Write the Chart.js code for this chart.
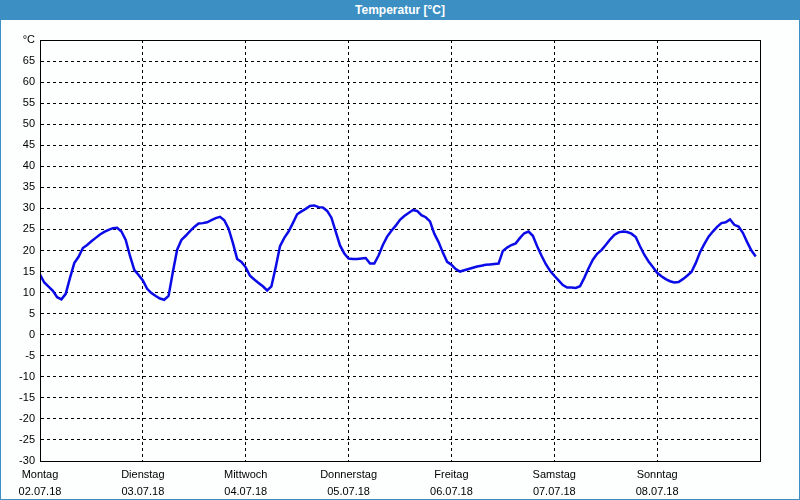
<!DOCTYPE html>
<html lang="de">
<head>
  <meta charset="UTF-8">
  <title>Temperatur</title>
  <script src="https://cdn.jsdelivr.net/npm/chart.js"></script>
  <style>
    body { margin: 0; background: #fff; }
    #wrap { position: relative; width: 800px; height: 500px; background: #fdfefe; overflow: hidden; }
    #bar {
      position: absolute; left: 0; top: 0; width: 800px; height: 20px;
      background: #3b8fc3; color: #fff; text-align: center;
      font: bold 12px "Liberation Sans", Arial, sans-serif; line-height: 20px;
    }
    #frame {
      position: absolute; left: 0; top: 20px; width: 798px; height: 479px;
      border: 1px solid #3b8fc3; border-top: none;
    }
    #c { position: absolute; left: 0; top: 0; }
  </style>
</head>
<body>
<div id="wrap">
  <canvas id="c" width="800" height="500"></canvas>
  <div id="frame"></div>
  <div id="bar">Temperatur [°C]</div>
</div>

<script>
  // Wochentage und Datum (ein Tick pro Tag, 24 h Abstand)
  const dayNames = ["Montag", "Dienstag", "Mittwoch", "Donnerstag", "Freitag", "Samstag", "Sonntag"];
  const dayDates = ["02.07.18", "03.07.18", "04.07.18", "05.07.18", "06.07.18", "07.07.18", "08.07.18"];
  // Stundenwerte in °C, ab Montag 00:00
  const temps = [
    14.3, 12.4, 11.4, 10.4, 8.9, 8.4, 9.7, 13.5, 17.0, 18.5, 20.6, 21.3,
    22.2, 23.0, 23.8, 24.4, 24.9, 25.3, 25.4, 24.5, 22.5, 18.7, 15.4, 14.2,
    12.9, 10.9, 9.9, 9.2, 8.6, 8.3, 9.2, 14.9, 20.2, 22.5, 23.5, 24.6,
    25.6, 26.4, 26.5, 26.7, 27.2, 27.7, 28.0, 27.2, 25.2, 21.8, 18.0, 17.3,
    16.0, 14.0, 13.1, 12.3, 11.5, 10.5, 11.5, 16.0, 21.0, 23.0, 24.5, 26.5,
    28.6, 29.3, 29.9, 30.6, 30.7, 30.3, 30.2, 29.4, 27.8, 24.5, 21.2, 19.3,
    18.1, 18.0, 18.0, 18.1, 18.2, 16.9, 16.9, 18.8, 21.3, 23.3, 24.7, 25.9,
    27.3, 28.2, 28.9, 29.6, 29.4, 28.4, 27.9, 26.9, 24.0, 22.0, 19.5, 17.3,
    16.6, 15.6, 15.0, 15.3, 15.6, 15.9, 16.2, 16.4, 16.6, 16.7, 16.8, 16.9,
    19.9, 20.7, 21.3, 21.7, 23.0, 24.1, 24.5, 23.5, 21.0, 18.8, 16.8, 15.2,
    14.0, 12.9, 11.8, 11.2, 11.2, 11.1, 11.5, 13.5, 15.8, 17.8, 19.2, 20.1,
    21.3, 22.6, 23.7, 24.3, 24.5, 24.4, 24.0, 23.2, 21.0, 19.0, 17.4, 16.1,
    14.7, 13.9, 13.2, 12.7, 12.4, 12.5, 13.2, 14.0, 14.9, 17.0, 19.6, 21.5,
    23.3, 24.5, 25.6, 26.5, 26.7, 27.4, 26.1, 25.7, 24.2, 22.0, 20.0, 18.6
  ];
  const yMin = -30, yMax = 70, yStep = 5;
  const hoursPerDay = 24;

  const font = { family: '"Liberation Sans", Arial, sans-serif', size: 11 };

  // Rahmen um den Plotbereich
  const boxPlugin = {
    id: 'box',
    afterDraw(chart) {
      const a = chart.chartArea, c = chart.ctx;
      c.save();
      c.strokeStyle = '#000';
      c.lineWidth = 1;
      c.setLineDash([]);
      c.strokeRect(Math.round(a.left) + 0.5, Math.round(a.top) + 0.5,
                   Math.round(a.right - a.left), Math.round(a.bottom - a.top));
      c.restore();
    }
  };

  const ctx = document.getElementById('c').getContext('2d');
  new Chart(ctx, {
    type: 'line',
    data: {
      datasets: [{
        data: temps.map((t, i) => ({ x: i, y: t })),
        borderColor: '#0b0be8',
        borderWidth: 2.5,
        pointRadius: 0,
        tension: 0,
        fill: false
      }]
    },
    options: {
      responsive: false,
      animation: false,
      layout: { padding: { left: 0, right: 40, top: 40, bottom: 0 } },
      plugins: { legend: { display: false }, tooltip: { enabled: false } },
      scales: {
        x: {
          type: 'linear',
          min: 0,
          max: dayNames.length * hoursPerDay,
          afterBuildTicks(scale) {
            scale.ticks = dayNames.map((d, i) => ({ value: i * hoursPerDay }));
          },
          afterFit(scale) { scale.height = 39; },
          ticks: {
            color: '#000',
            font: { ...font, lineHeight: 1.5 },
            padding: 6,
            maxRotation: 0,
            autoSkip: false,
            callback: (v) => {
              const i = Math.round(v / hoursPerDay);
              return [dayNames[i], dayDates[i]];
            }
          },
          grid: { color: '#000', drawTicks: false },
          border: { color: '#000', dash: [3, 3], width: 1 }
        },
        y: {
          min: yMin,
          max: yMax,
          afterFit(scale) { scale.width = 40; },
          ticks: {
            stepSize: yStep,
            color: '#000',
            font: font,
            padding: 5,
            callback: (v) => v === yMax ? '°C' : v
          },
          grid: { color: '#000', drawTicks: false },
          border: { color: '#000', dash: [3, 3], width: 1 }
        }
      }
    },
    plugins: [boxPlugin]
  });
</script>
</body>
</html>
